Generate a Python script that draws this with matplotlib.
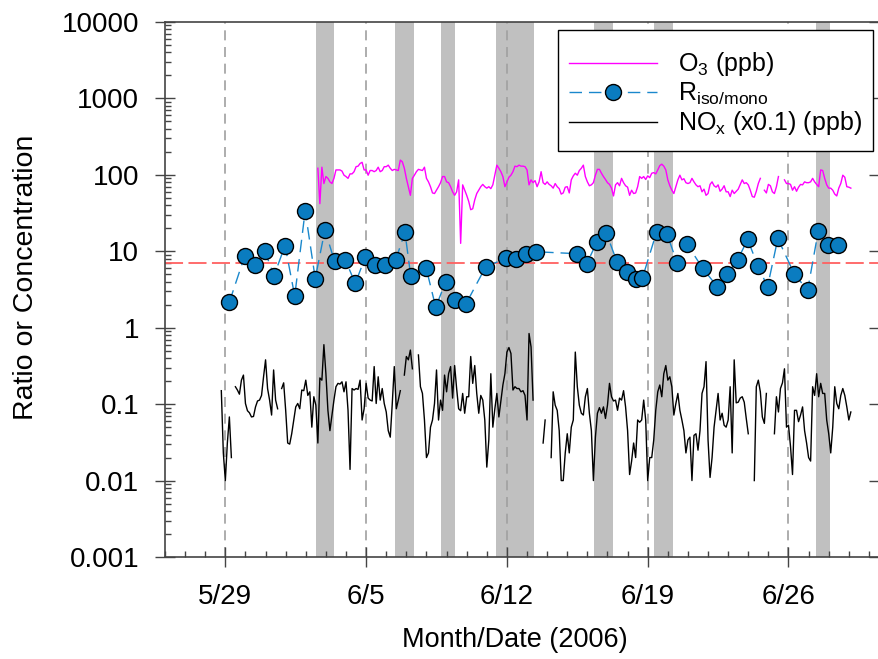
import numpy as np
import matplotlib
matplotlib.use("Agg")
import matplotlib.pyplot as plt
from matplotlib.patches import Rectangle
from matplotlib.ticker import FixedLocator, LogLocator, NullFormatter

plt.rcParams['font.family'] = ['Liberation Sans', 'DejaVu Sans']
plt.rcParams['mathtext.default'] = 'regular'

# ---------------- data (x = days after 5/29/2006) ----------------
tick_days = [0, 7, 14, 21, 28]
tick_labels = ['5/29', '6/5', '6/12', '6/19', '6/26']
ytick_vals = [0.001, 0.01, 0.1, 1, 10, 100, 1000, 10000]
ytick_labels = ['0.001', '0.01', '0.1', '1', '10', '100', '1000', '10000']

band_start = [4.53, 8.42, 10.71, 13.45, 18.34, 21.33, 29.35]
band_end = [5.38, 9.37, 11.41, 15.35, 19.28, 22.27, 30.05]

ratio_ref = 7.0

r_days = [0.2, 0.96, 1.46, 1.96, 2.42, 2.97, 3.45, 3.97, 4.47, 4.95, 5.43, 5.96,
          6.46, 6.96, 7.44, 7.94, 8.47, 8.93, 9.22, 9.98, 10.46, 10.95, 11.44,
          11.96, 12.95, 13.95, 14.45, 14.95, 15.45, 17.49, 17.97, 18.47, 18.95,
          19.47, 19.95, 20.43, 20.74, 21.44, 21.96, 22.46, 22.97, 23.73, 24.46,
          24.96, 25.48, 25.97, 26.47, 26.96, 27.47, 28.28, 28.95, 29.48, 29.98, 30.48]
r_vals = [2.16, 8.65, 6.6, 10.1, 4.8, 11.9, 2.6, 33.9, 4.4, 19.0, 7.4, 7.8,
          3.8, 8.4, 6.6, 6.6, 7.7, 17.8, 4.7, 6.1, 1.86, 3.95, 2.3,
          2.04, 6.3, 8.07, 7.9, 9.3, 9.86, 9.3, 6.9, 13.1, 17.1,
          7.3, 5.3, 4.4, 4.5, 17.8, 16.8, 7.1, 12.3, 6.0, 3.44,
          5.1, 7.8, 14.3, 6.5, 3.44, 14.7, 5.1, 3.08, 18.4, 12.2, 12.1]

nan = np.nan
o3_first_day = 4.6
o3_step = 0.1
o3_ppb = [
    122, 42, 126, 77, 95, 90, 81, 77, 90, 116,
    116, 116, 112, 99, 95, 90, 103, 103, 110, 128,
    130, 141, 146, 116, 116, 99, 114, 114, 110, 114,
    126, 110, 114, 128, 128, 134, 122, 114, 118, 116,
    114, 156, 148, 122, 90, 70, 54, 90, 99, 110,
    118, 116, 114, 126, 90, 81, 70, 58, 57, 63,
    70, 79, 95, 95, 81, 79, 70, 60, 54, 60,
    86, 12.7, 74, 63, 54, 45, 35, 36, 47, 57,
    63, 70, 75, 70, 67, 70, 66, 74, 99, 134,
    122, 110, 95, 70, 81, 93, 99, 110, 130, 128,
    134, 130, 130, 128, 116, 74, 86, 79, 84, 70,
    81, 110, 79, 75, 81, 75, 72, 67, 77, 70,
    66, 56, 58, 69, 70, 58, 86, 97, 105, 99,
    114, 122, 134, 95, 81, 72, 74, 79, 99, 118,
    118, 105, 95, 87, 79, 75, 67, 53, 74, 79,
    72, 90, 79, 72, 69, 54, 63, 57, 58, 70,
    95, 90, 95, 87, 97, 92, 105, 107, 103, 116,
    132, 138, 130, 116, 86, 72, 63, 57, 70, 86,
    99, 86, 89, 79, 77, 79, 90, 81, 74, 70,
    72, 60, 65, 54, 57, 75, 81, 72, 69, 74,
    61, 65, 72, 60, 60, 52, 63, 57, 61, 65,
    75, 86, 77, 79, 74, 63, 52, 51, 61, 77,
    90, nan, 63, 58, 75, 72, 60, 57, 70, 95,
    nan, nan, 86, 77, 77, 75, 63, 70, 61, 69,
    75, 74, 81, 79, 79, 81, 90, 81, 75, 70,
    116, 114, 90, 74, 67, 67, 63, 56, 53, 67,
    77, 99, 93, 70, 69, 67]

nox_first_day = -0.2
nox_step = 0.1
nox_scaled = [
    0.15, 0.023, 0.010, 0.031, 0.068, 0.020, nan, 0.169, 0.153, 0.135,
    0.206, 0.24, 0.102, 0.082, 0.077, 0.068, 0.069, 0.092, 0.11, 0.113,
    0.13, 0.228, 0.38, 0.16, 0.113, 0.072, 0.28, 0.113, 0.087, nan,
    0.16, 0.19, 0.083, 0.031, 0.030, 0.041, 0.062, 0.092, 0.102, 0.087,
    0.153, 0.15, 0.206, 0.13, 0.145, 0.050, 0.125, 0.097, 0.031, 0.22,
    0.206, 0.60, 0.25, 0.083, 0.045, 0.072, 0.113, 0.169, 0.187, 0.183,
    0.196, 0.145, 0.196, 0.083, 0.014, 0.16, 0.153, 0.16, 0.156, 0.206,
    0.062, 0.087, 0.187, 0.12, 0.113, 0.11, 0.31, 0.102, 0.228, 0.113,
    0.16, 0.102, 0.079, 0.045, 0.037, 0.102, 0.31, 0.087, 0.113, 0.15,
    nan, 0.24, 0.42, 0.38, 0.51, 0.29, nan, nan, 0.44, 0.169,
    0.138, 0.062, 0.020, 0.023, 0.050, 0.062, 0.102, 0.28, 0.062, 0.113,
    0.083, 0.24, 0.145, 0.25, 0.31, 0.12, 0.32, 0.16, 0.087, 0.082,
    0.138, 0.076, 0.125, 0.125, 0.42, 0.187, 0.32, 0.138, 0.076, 0.13,
    0.113, 0.062, 0.015, 0.034, 0.25, 0.050, 0.087, 0.138, 0.068, 0.11,
    0.178, 0.25, 0.48, 0.55, 0.46, 0.153, 0.169, 0.16, 0.16, 0.145,
    0.15, 0.13, 0.062, 0.84, 0.56, 0.113, nan, 0.034, nan, nan,
    0.031, 0.062, nan, nan, 0.020, 0.145, 0.097, 0.083, 0.045, 0.010,
    0.010, 0.023, 0.041, 0.023, 0.050, 0.062, 0.48, 0.169, 0.097, 0.076,
    0.072, 0.125, 0.16, 0.076, 0.045, 0.010, 0.037, 0.076, 0.09, 0.076,
    0.092, 0.065, 0.097, 0.187, 0.125, 0.11, 0.113, 0.083, 0.12, 0.113,
    0.15, 0.092, 0.045, 0.012, 0.018, 0.031, 0.020, 0.062, 0.058, 0.062,
    0.113, 0.062, 0.010, 0.020, 0.020, 0.034, 0.083, 0.145, 0.178, 0.125,
    0.25, 0.32, 0.206, 0.228, 0.169, 0.072, 0.102, 0.138, 0.083, 0.062,
    0.045, 0.023, 0.034, 0.037, 0.010, 0.039, 0.041, 0.025, 0.045, 0.138,
    0.169, 0.36, 0.034, 0.011, 0.020, 0.050, 0.083, 0.138, 0.062, 0.076,
    0.053, 0.050, 0.062, 0.169, 0.023, 0.38, 0.104, 0.106, 0.12, 0.125,
    0.106, 0.065, 0.041, nan, nan, 0.010, 0.169, 0.206, 0.145, 0.068,
    0.056, 0.138, nan, nan, nan, 0.041, 0.125, 0.079, 0.16, 0.19,
    0.29, 0.050, 0.053, 0.028, 0.012, 0.083, 0.083, 0.059, 0.072, 0.092,
    0.045, 0.031, 0.020, 0.018, 0.169, 0.13, 0.25, 0.125, 0.187, 0.138,
    0.138, 0.062, 0.041, 0.023, 0.050, 0.169, 0.102, 0.087, 0.13, 0.16,
    0.13, 0.092, 0.062, 0.079]

o3_days = o3_first_day + o3_step * np.arange(len(o3_ppb))
nox_days = nox_first_day + nox_step * np.arange(len(nox_scaled))

# ---------------- figure ----------------
W, H = 879, 659
fig = plt.figure(figsize=(W / 100, H / 100), dpi=100)
ax = fig.add_axes([165 / W, (H - 557) / H, (879 - 165) / W, (557 - 22) / H])

ax.set_yscale('log')
ax.set_xlim(-3, 32.5)
ax.set_ylim(0.001, 10000)

for s, e in zip(band_start, band_end):
    ax.axvspan(s, e, color='#c0c0c0', lw=0, zorder=0)
for d in tick_days:
    ax.axvline(d, color='#a0a0a0', lw=1.2, dashes=(6, 4), zorder=1)
ax.axhline(ratio_ref, color='#ff6060', lw=1.3, dashes=(10, 3), zorder=2)

l_o3, = ax.plot(o3_days, o3_ppb, color='#ff00ff', lw=1.0, zorder=3, label='O$_3$ (ppb)')
l_nox, = ax.plot(nox_days, nox_scaled, color='black', lw=1.0, zorder=3,
                 label='NO$_x$ (x0.1) (ppb)')
l_r, = ax.plot(r_days, r_vals, color='#1a88cc', lw=1.0, dashes=(9, 5),
               marker='o', markersize=11.5, markerfacecolor='#0a7cc0',
               markeredgecolor='black', markeredgewidth=1.0, zorder=4,
               label='R$_{iso/mono}$')

# ticks
ax.xaxis.set_major_locator(FixedLocator(tick_days))
ax.set_xticklabels(tick_labels)
ax.xaxis.set_minor_locator(FixedLocator(np.arange(-3, 33, 1)))
ax.yaxis.set_major_locator(FixedLocator(ytick_vals))
ax.set_yticklabels(ytick_labels)
ax.yaxis.set_minor_locator(LogLocator(base=10, subs=np.arange(2, 10), numticks=100))
ax.yaxis.set_minor_formatter(NullFormatter())

tc = '#444444'
ax.tick_params(axis='both', which='major', direction='inout', length=15, width=1.0,
               color=tc, labelsize=20, labelcolor='black')
ax.tick_params(axis='both', which='minor', direction='in', length=4.5, width=1.0, color=tc)
ax.tick_params(axis='x', which='major', pad=12)
ax.tick_params(axis='y', which='major', pad=11)
ax.tick_params(axis='y', which='major', right=True)
for sp in ax.spines.values():
    sp.set_color(tc)
    sp.set_linewidth(1.2)

fig.text(26 / W, 1 - 277 / H, 'Ratio or Concentration', rotation=90,
         ha='center', va='center', fontsize=20.5)
fig.text(515 / W, 1 - 640 / H, 'Month/Date (2006)', ha='center', va='center', fontsize=19.5)

# legend frame drawn as a box, legend content placed inside it
ax.add_patch(Rectangle((558 / W, 1 - 151 / H), (873 - 558) / W, (151 - 30) / H,
                       transform=fig.transFigure, facecolor='white', edgecolor='black',
                       lw=1.0, zorder=9, clip_on=False))
leg = ax.legend([l_o3, l_r, l_nox], [l_o3.get_label(), l_r.get_label(), l_nox.get_label()],
                loc='upper left', bbox_to_anchor=(558 / W, 1 - 39 / H),
                bbox_transform=fig.transFigure, frameon=False,
                fontsize=18, handlelength=3.5,
                handletextpad=0.85, labelspacing=0.1, borderpad=0.45,
                borderaxespad=0, numpoints=1)
leg.set_zorder(10)

fig.savefig('out.png', dpi=100)
